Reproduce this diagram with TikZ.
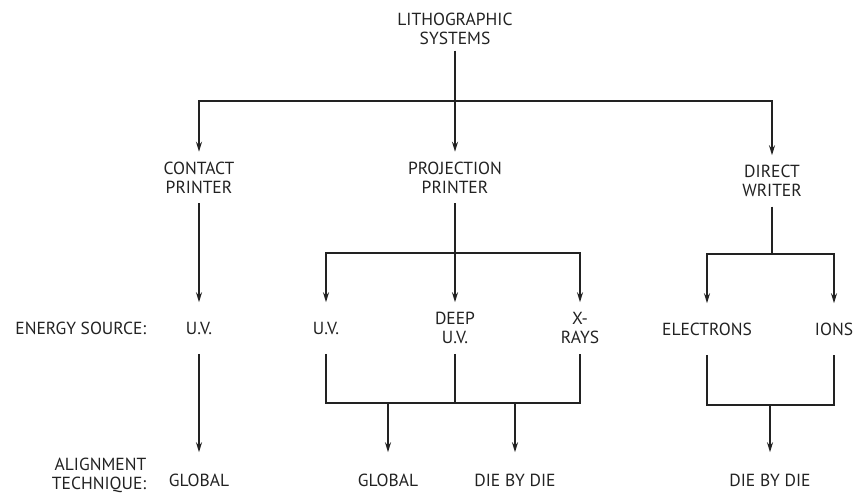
\documentclass[tikz,border=0pt]{standalone}
\usepackage{fontspec}
\setmainfont{PT Sans}
\usetikzlibrary{arrows.meta,positioning,calc}
\definecolor{LithoInk}{HTML}{222222}

\begin{document}
\begin{tikzpicture}[>={Stealth[length=10pt,width=6pt]},line width=1.5pt,draw=LithoInk,x=1pt,y=-1pt,
  every node/.style={text=LithoInk,font=\fontsize{17.5}{19}\selectfont,align=center,inner sep=0pt},
  level/.style={minimum height=50pt},
  result/.style={minimum height=54pt}]
\useasboundingbox (0,0) rectangle (853,494);
\node[minimum height=42pt] (lith) at (455,29) {LITHOGRAPHIC\\SYSTEMS};
\node[level] (contact) at (199,177.5) {CONTACT\\PRINTER};
\node[level] (proj) at (455,177.5) {PROJECTION\\PRINTER};
\node[level] (direct) at (772,181) {DIRECT\\WRITER};
\node[anchor=east,align=right] (esrc) at (147,328) {ENERGY SOURCE:};
\node[level] (cuv) at (199,328) {U.V.};
\node[level] (puv) at (326,328) {U.V.};
\node[level] (pdeep) at (455,328) {DEEP\\U.V.};
\node[level] (pxray) at (580,328) {X-\\RAYS};
\node[level] (elec) at (707,329) {ELECTRONS};
\node[level] (ions) at (834,329) {IONS};
\node[anchor=east,align=right] (atech) at (147,475) {ALIGNMENT\\TECHNIQUE:};
\node[result] (cglob) at (199,480) {GLOBAL};
\node[result] (pglob) at (388,480) {GLOBAL};
\node[result] (pdie) at (515,480) {DIE BY DIE};
\node[result] (ddie) at (770,480) {DIE BY DIE};
\coordinate (topbar) at (455,101);
\coordinate (pbar) at (455,253);
\coordinate (pjoin) at (455,403);
\coordinate (dbar) at (772,254);
\coordinate (djoin) at (770,405);
\draw[->] (lith.south) -- (proj.north);
\draw[->] (topbar) -| (contact.north);
\draw[->] (topbar) -| (direct.north);
\draw[->] (contact.south) -- (cuv.north);
\draw[->] (cuv.south) -- (cglob.north);
\draw (proj.south) -- (pbar);
\draw[->] (pbar) -| (puv.north);
\draw[->] (pbar) -- (pdeep.north);
\draw[->] (pbar) -| (pxray.north);
\draw (puv.south) |- (pxray.south |- pjoin) -- (pxray.south);
\draw (pdeep.south) -- (pjoin);
\draw[->] (pglob.north |- pjoin) -- (pglob.north);
\draw[->] (pdie.north |- pjoin) -- (pdie.north);
\draw (direct.south) -- (dbar);
\draw[->] (dbar) -| (elec.north);
\draw[->] (dbar) -| (ions.north);
\draw (elec.south) |- (ions.south |- djoin) -- (ions.south);
\draw[->] (djoin) -- (ddie.north);
\end{tikzpicture}
\end{document}
